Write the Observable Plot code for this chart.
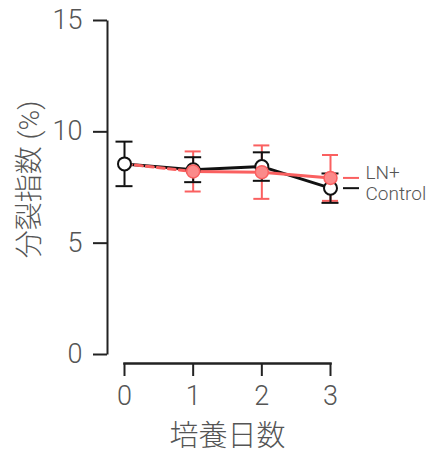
<!DOCTYPE html>
<html>
<head>
<meta charset="utf-8">
<script src="https://cdn.jsdelivr.net/npm/d3@7"></script>
<script src="https://cdn.jsdelivr.net/npm/@observablehq/plot@0.6"></script>
<style>
  body { margin: 0; background: #fff; }
  svg { font-weight: 300; }
</style>
</head>
<body>
<div id="chart"></div>
<script>
// Mitotic index (%) over days in culture, mean ± error
const days = [0, 1, 2, 3];
const controlMean = [8.56, 8.30, 8.44, 7.47];
const controlErr = [1.00, 0.56, 0.64, 0.66];
const lnDays = [1, 2, 3];
const lnMean = [8.22, 8.19, 7.93];
const lnErr = [0.90, 1.20, 1.03];
const yTicks = [0, 5, 10, 15];
const seriesNames = ["LN+", "Control"];

const control = days.map((d, i) => ({day: d, v: controlMean[i], e: controlErr[i]}));
const ln = lnDays.map((d, i) => ({day: d, v: lnMean[i], e: lnErr[i]}));
// LN+ starts from the common day-0 value
const lnStart = [{day: control[0].day, v: control[0].v}, {day: ln[0].day, v: ln[0].v}];

const black = "#111";
const red = "#fa6060";
const redFill = "#fb8a8a";
const axisColor = "#222";
const font = "Roboto, 'Noto Sans CJK JP', sans-serif";

const chart = Plot.plot({
  width: 430,
  height: 452,
  marginLeft: 107,
  marginRight: 83,
  marginTop: 20,
  marginBottom: 98,
  x: {domain: [0, 3], range: [124, 330]},
  y: {domain: [0, 15], range: [354, 20]},
  style: {fontFamily: font, color: "#555", background: "#fff"},
  marks: [
    // y axis
    Plot.link([yTicks], {x1: () => 0, x2: () => 0, y1: d => d[0], y2: d => d[d.length - 1], dx: -17, stroke: axisColor, strokeWidth: 2}),
    Plot.axisY({ticks: yTicks, tickSize: 14, tickPadding: 11, fontSize: 27, stroke: axisColor, strokeWidth: 2, label: null}),
    // detached x axis
    Plot.link([days], {x1: d => d[0], x2: d => d[d.length - 1], y1: () => 0, y2: () => 0, dy: 9, stroke: axisColor, strokeWidth: 2.5, strokeLinecap: "square"}),
    Plot.axisX({ticks: days, tickSize: 13, tickPadding: 9, dy: 9, fontSize: 27, stroke: axisColor, strokeWidth: 2, label: null, tickFormat: d => d}),
    // axis titles
    Plot.text(["培養日数"], {frameAnchor: "bottom", dy: 82, lineAnchor: "middle", fontSize: 29, fill: "#555"}),
    Plot.text(["分裂指数 (%)"], {frameAnchor: "left", dx: -77, dy: -8, rotate: -90, textAnchor: "middle", lineAnchor: "middle", fontSize: 28, fill: "#555"}),

    // LN+ error bars
    Plot.ruleX(ln, {x: "day", y1: d => d.v - d.e, y2: d => d.v + d.e, stroke: red, strokeWidth: 2}),
    Plot.ruleY(ln, {y: d => d.v + d.e, x1: "day", x2: "day", insetLeft: -8, insetRight: -8, stroke: red, strokeWidth: 2}),
    Plot.ruleY(ln, {y: d => d.v - d.e, x1: "day", x2: "day", insetLeft: -8, insetRight: -8, stroke: red, strokeWidth: 2}),
    // Control error bars
    Plot.ruleX(control, {x: "day", y1: d => d.v - d.e, y2: d => d.v + d.e, stroke: black, strokeWidth: 2}),
    Plot.ruleY(control, {y: d => d.v + d.e, x1: "day", x2: "day", insetLeft: -8.5, insetRight: -8.5, stroke: black, strokeWidth: 2}),
    Plot.ruleY(control, {y: d => d.v - d.e, x1: "day", x2: "day", insetLeft: -8.5, insetRight: -8.5, stroke: black, strokeWidth: 2}),

    // lines
    Plot.line(control, {x: "day", y: "v", stroke: black, strokeWidth: 3}),
    Plot.line(lnStart, {x: "day", y: "v", stroke: red, strokeWidth: 3, strokeDasharray: "7,4"}),
    Plot.line(ln, {x: "day", y: "v", stroke: red, strokeWidth: 3}),

    // points
    Plot.dot(control, {x: "day", y: "v", r: 6.5, fill: "#fff", stroke: black, strokeWidth: 2}),
    Plot.dot(ln, {x: "day", y: "v", r: 6.5, fill: redFill, stroke: red, strokeWidth: 1.5}),

    // end labels
    Plot.ruleY([ln[ln.length - 1]], {y: "v", x1: "day", x2: "day", insetLeft: 13, insetRight: -29, stroke: red, strokeWidth: 2}),
    Plot.ruleY([control[control.length - 1]], {y: "v", x1: "day", x2: "day", insetLeft: 13, insetRight: -29, stroke: black, strokeWidth: 2}),
    Plot.text([ln[ln.length - 1]], {x: "day", y: "v", text: () => seriesNames[0], dx: 35, dy: -5, textAnchor: "start", lineAnchor: "middle", fontSize: 19, fill: "#555"}),
    Plot.text([control[control.length - 1]], {x: "day", y: "v", text: () => seriesNames[1], dx: 35, dy: 6, textAnchor: "start", lineAnchor: "middle", fontSize: 19, fill: "#555"})
  ]
});

document.getElementById("chart").appendChild(chart);
</script>
</body>
</html>
